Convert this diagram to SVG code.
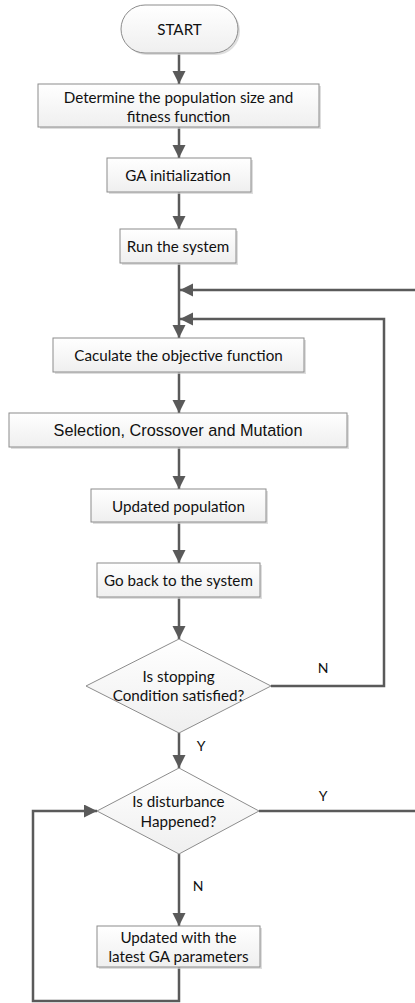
<svg xmlns="http://www.w3.org/2000/svg" width="415" height="1003" viewBox="0 0 415 1003">
<style>
.box{fill:url(#g);stroke:#8c8c8c;stroke-width:1}
.sh{fill:#d0d0d0;opacity:0.7}
.t{font-family:Lato,"Open Sans",sans-serif;font-size:15.2px;fill:#111111;text-anchor:middle;dominant-baseline:central}
.a{font-family:"Liberation Sans",Arial,sans-serif;font-size:16.3px;fill:#111111;text-anchor:middle;dominant-baseline:central}
.l{font-family:Lato,"Open Sans",sans-serif;font-size:14px;fill:#111111;text-anchor:middle;dominant-baseline:central}
.c{fill:none;stroke:#5a5a5a;stroke-width:2.5}
.ca{fill:none;stroke:#5a5a5a;stroke-width:2.5;marker-end:url(#ah)}
</style>
<defs>
<linearGradient id="g" x1="0" y1="0" x2="0" y2="1"><stop offset="0" stop-color="#ffffff"/><stop offset="1" stop-color="#efefef"/></linearGradient>
<marker id="ah" markerUnits="userSpaceOnUse" markerWidth="16" markerHeight="16" refX="13" refY="6.5" orient="auto"><path d="M0,0 L13,6.5 L0,13 Z" fill="#5a5a5a"/></marker>
</defs>
<rect width="415" height="1003" fill="#ffffff"/>
<g id="connectors">
<path class="ca" d="M179,53 V84"/>
<path class="ca" d="M179,127 V158"/>
<path class="ca" d="M179,192 V229"/>
<path class="ca" d="M179,263 V338"/>
<path class="ca" d="M415,290 H180"/>
<path class="ca" d="M271,686 H384 V319 H180"/>
<path class="ca" d="M179,372 V413"/>
<path class="ca" d="M179,447 V489"/>
<path class="ca" d="M179,522 V563"/>
<path class="ca" d="M179,597 V639"/>
<path class="ca" d="M179,733 V768"/>
<path class="c" d="M259,811 H415"/>
<path class="ca" d="M179,854 V926"/>
<path class="ca" d="M179,967 V1001 H33 V811 H97"/>
<text class="l" x="323" y="667">N</text>
<text class="l" x="201" y="745">Y</text>
<text class="l" x="323" y="795">Y</text>
<text class="l" x="198" y="885">N</text>
</g>
<g id="start">
<rect class="sh" x="123" y="7" width="117" height="48" rx="24"/>
<rect class="box" x="121" y="5" width="117" height="48" rx="24"/>
<text class="t" x="179.5" y="29">START</text>
</g>
<g id="determine">
<rect class="sh" x="40" y="86" width="281" height="43"/>
<rect class="box" x="38" y="84" width="281" height="43"/>
<text class="t" x="178.5" y="97">Determine the population size and</text>
<text class="t" x="178.5" y="116">fitness function</text>
</g>
<g id="gainit">
<rect class="sh" x="109" y="160" width="144" height="34"/>
<rect class="box" x="107" y="158" width="144" height="34"/>
<text class="t" x="178" y="175">GA initialization</text>
</g>
<g id="run">
<rect class="sh" x="122" y="231" width="116" height="34"/>
<rect class="box" x="120" y="229" width="116" height="34"/>
<text class="t" x="178" y="246">Run the system</text>
</g>
<g id="calc">
<rect class="sh" x="55" y="340" width="251" height="34"/>
<rect class="box" x="53" y="338" width="251" height="34"/>
<text class="t" x="178.5" y="355">Caculate the objective function</text>
</g>
<g id="selection">
<rect class="sh" x="11" y="415" width="338" height="34"/>
<rect class="box" x="9" y="413" width="338" height="34"/>
<text class="a" x="178" y="430">Selection, Crossover and Mutation</text>
</g>
<g id="updated">
<rect class="sh" x="93" y="491" width="175" height="33"/>
<rect class="box" x="91" y="489" width="175" height="33"/>
<text class="t" x="178.5" y="505.5">Updated population</text>
</g>
<g id="goback">
<rect class="sh" x="99" y="565" width="163" height="34"/>
<rect class="box" x="97" y="563" width="163" height="34"/>
<text class="t" x="178.5" y="580">Go back to the system</text>
</g>
<g id="stopping">
<path class="box" d="M179,639 L271,686 L179,733 L86,686 Z"/>
<text class="t" x="178.5" y="676">Is stopping</text>
<text class="t" x="178.5" y="695">Condition satisfied?</text>
</g>
<g id="disturbance">
<path class="box" d="M179,768 L259,811 L179,854 L97,811 Z"/>
<text class="t" x="178.5" y="801">Is disturbance</text>
<text class="t" x="178.5" y="821">Happened?</text>
</g>
<g id="latest">
<rect class="sh" x="99" y="928" width="163" height="41"/>
<rect class="box" x="97" y="926" width="163" height="41"/>
<text class="t" x="178.5" y="937">Updated with the</text>
<text class="t" x="178.5" y="956">latest GA parameters</text>
</g>
</svg>
